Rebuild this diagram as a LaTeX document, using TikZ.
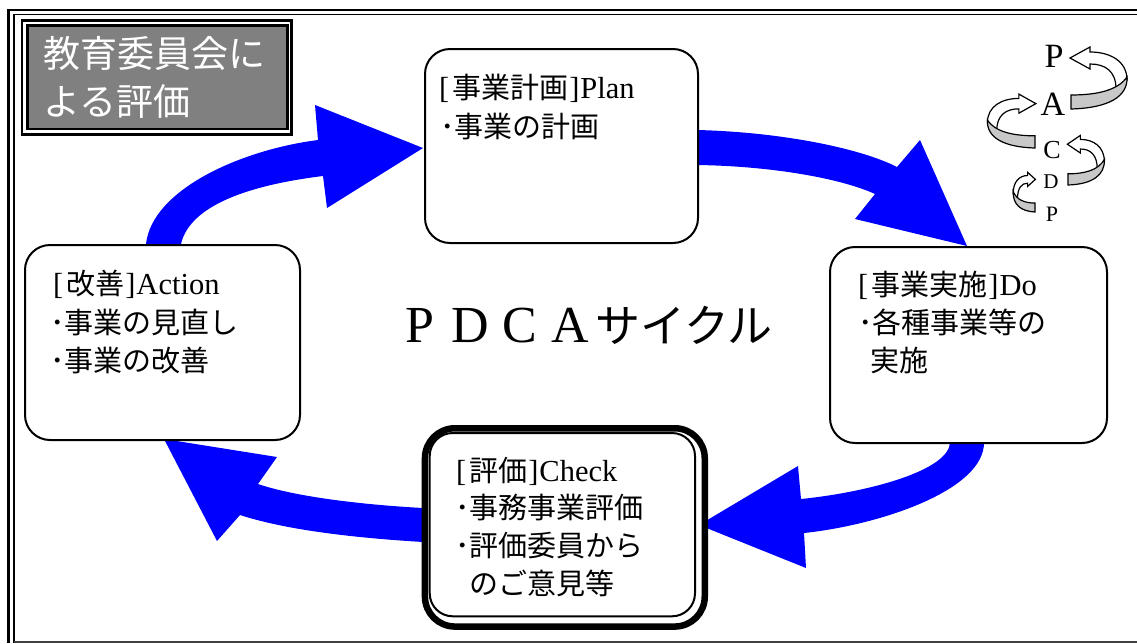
\documentclass[tikz,border=0pt]{standalone}
\usepackage{fontspec}
\setmainfont{Liberation Serif}
\newfontfamily\jp{Noto Sans CJK JP}
\newfontfamily\lat{Liberation Serif}
\definecolor{arrowblue}{RGB}{0,0,255}
\definecolor{titlegray}{RGB}{128,128,128}
\definecolor{spgray}{RGB}{200,200,200}
\newcommand\boxsz{\fontsize{29}{34}\selectfont}
\newcommand\latt[1]{{\lat\fontsize{30.5}{34}\selectfont #1}}
\newcommand\lbk{\latt{[}\kern3pt}
\newcommand\rbk{\kern1pt\latt{]}\kern1pt}
\newcommand\spiralarr[4]{%
  \begin{scope}[shift={(#1,#2)},xscale=#3,yscale=#4]
    \filldraw[fill=white,draw=black,line width=1.2pt,line join=miter]
      (56,-29) .. controls (56,-48) and (39,-57) .. (19,-57) -- (19,-62) -- (-1,-51)
      -- (19,-40) -- (19,-45) .. controls (34,-45) and (45,-38) .. (45,-20) -- cycle;
    \filldraw[fill=spgray,draw=black,line width=1.2pt]
      (0,0) .. controls (37,-1) and (57,-12) .. (56,-32)
      .. controls (47,-19) and (27,-14) .. (0,-14) -- cycle;
  \end{scope}}
\tikzset{
  box/.style={draw,line width=2pt,rounded corners=25pt,fill=white,anchor=north west,inner sep=0pt},
  txt/.style={anchor=base west,inner sep=0pt,font=\jp\boxsz},
  ttl/.style={anchor=base west,inner sep=0pt,text=white,font=\jp\fontsize{37}{40}\selectfont},
  spl/.style={inner sep=0pt,anchor=center},
  blue arrow/.style={fill=arrowblue,draw=none}
}
\begin{document}
\begin{tikzpicture}[x=1pt,y=-1pt]
\useasboundingbox (0,0) rectangle (1137,643);
% outer frame
\draw[line width=2.5pt] (8.5,643) -- (8.5,10) -- (1137,10);
\draw[line width=1.8pt] (13.8,643) -- (13.8,14.5) -- (1137,14.5);
\draw[line width=2.5pt,draw=black!75] (13.8,641.8) -- (1137,641.8);
% title
\draw[line width=2.7pt] (22,20.7) rectangle (291.7,134.3);
\filldraw[fill=titlegray,line width=2.5pt] (27.3,25.3) rectangle (287.3,129.2);
\node[ttl] (title1) at (43,67) {教育委員会に};
\node[ttl] (title2) at (43,115) {よる評価};
% blue arrows
\fill[blue arrow] (146,244) .. controls (152,190) and (240,150) .. (318,140) -- (315,105) -- (423,148)
  -- (327,208) -- (323,176) .. controls (250,185) and (190,205) .. (181,244) -- cycle;
\fill[blue arrow] (697,130) .. controls (780,132) and (860,148) .. (897,167) -- (920,140) -- (967,246)
  -- (855,219) -- (875,194) .. controls (840,178) and (770,166) .. (697,165) -- cycle;
\fill[blue arrow] (950,442) .. controls (950,470) and (870,492) .. (801,499) -- (798,466) -- (699,525)
  -- (806,568) -- (804,533) .. controls (880,525) and (985,490) .. (984,442) -- cycle;
\fill[blue arrow] (423,508) .. controls (350,504) and (290,495) .. (258,484) -- (277,457) -- (164,439)
  -- (217,541) -- (240,515) .. controls (280,528) and (340,537) .. (423,542) -- cycle;
% boxes
\node[box,minimum width=273pt,minimum height=194pt] (plan) at (424,48) {};
\node[box,minimum width=275pt,minimum height=195pt] (act) at (24,244) {};
\node[box,minimum width=277pt,minimum height=196pt] (do) at (829,246) {};
\node[box,line width=6.5pt,rounded corners=30pt,minimum width=279.8pt,minimum height=198.3pt] (chk) at (421.7,425) {};
\node[box,fill=none,line width=2pt,rounded corners=23pt,minimum width=265.3pt,minimum height=183.3pt] (chkin) at (428.7,432) {};
% texts
\node[txt] (plan1) at (439,98) {\lbk 事業計画\rbk\latt{Plan}};
\node[txt] (plan2) at (440,137) {･事業の計画};
\node[txt] (act1) at (53,294) {\lbk 改善\rbk\latt{Action}};
\node[txt] (act2) at (50,333) {･事業の見直し};
\node[txt] (act3) at (50,371) {･事業の改善};
\node[txt] (do1) at (858,295) {\lbk 事業実施\rbk\latt{Do}};
\node[txt] (do2) at (858,333) {･各種事業等の};
\node[txt] (do3) at (870,371) {実施};
\node[txt] (chk1) at (456,481) {\lbk 評価\rbk\latt{Check}};
\node[txt] (chk2) at (455,518) {･事務事業評価};
\node[txt] (chk3) at (455,556) {･評価委員から};
\node[txt] (chk4) at (469,594) {のご意見等};
% center
\node[anchor=base west,inner sep=0pt] (pdca) at (395,342)
  {{\lat\fontsize{52}{52}\selectfont\makebox[50pt]{P}\makebox[50pt]{D}\makebox[50pt]{C}\makebox[50pt]{A}}{\jp\fontsize{45}{45}\selectfont サイクル}};
% spiral icon
\spiralarr{1071}{109}{1}{1}
\spiralarr{1035}{148}{-0.85}{0.87}
\spiralarr{1068}{185}{0.65}{0.8}
\spiralarr{1035}{212}{-0.39}{0.64}
\node[spl,font=\lat\fontsize{34}{34}\selectfont] (spP1) at (1054,56) {P};
\node[spl,font=\lat\fontsize{34}{34}\selectfont] (spA) at (1053,104) {A};
\node[spl,font=\lat\fontsize{26}{26}\selectfont] (spC) at (1052,150) {C};
\node[spl,font=\lat\fontsize{21}{21}\selectfont] (spD) at (1051,182) {D};
\node[spl,font=\lat\fontsize{22}{22}\selectfont] (spP2) at (1052,214) {P};
\end{tikzpicture}
\end{document}
